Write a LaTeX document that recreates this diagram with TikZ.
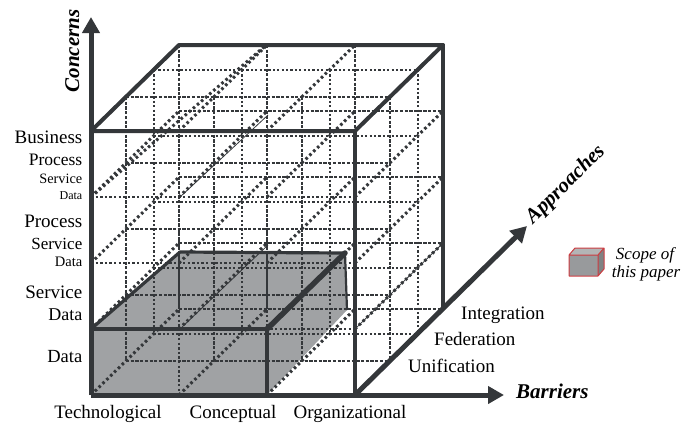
\documentclass[tikz,border=0pt]{standalone}
\usepackage{fontspec}
\setmainfont{Liberation Serif}
\usetikzlibrary{arrows.meta}
\definecolor{ink}{RGB}{52,55,58}
\definecolor{boxgray}{RGB}{160,162,164}
\definecolor{edgered}{RGB}{205,60,65}
\begin{document}
\begin{tikzpicture}[x=1pt,y=-1pt,
  axisline/.style={ink, line width=5pt, -{Triangle[width=17pt,length=16pt]}},
  solidedge/.style={ink, line width=4pt, line cap=round, line join=round},
  gA/.style={ink, line width=2.6pt, dash pattern=on 2.4pt off 2.2pt},
  gB/.style={ink, line width=1.2pt, dash pattern=on 3.2pt off 1.5pt},
  gC/.style={ink, line width=2.4pt, dash pattern=on 2.2pt off 2.2pt},
  gD/.style={ink, line width=1.3pt, dash pattern=on 3.2pt off 1.5pt},
  depthline/.style={ink, line width=3pt, dash pattern=on 2.6pt off 2.8pt},
  lbl/.style={anchor=east, inner sep=0pt, font=\fontsize{#1pt}{#1pt}\selectfont},
  blbl/.style={anchor=base, inner sep=0pt, font=\fontsize{19pt}{19pt}\selectfont},
  alb/.style={anchor=base west, inner sep=0pt, font=\fontsize{19pt}{19pt}\selectfont},
  axlbl/.style={inner sep=0pt, font=\fontsize{21pt}{21pt}\selectfont\bfseries\itshape},
  legendtxt/.style={anchor=base, inner sep=0pt, font=\fontsize{17pt}{17pt}\selectfont\itshape}]
\useasboundingbox (0,0) rectangle (695,429);

% named points
\coordinate (O) at (91,395);
\coordinate (ctip) at (91,17);
\coordinate (btip) at (504,395);
\coordinate (A0) at (355,395);
\coordinate (atip) at (527,226);
\coordinate (FTL) at (91,131);
\coordinate (FTR) at (355,131);
\coordinate (BTL) at (179,45);
\coordinate (BTR) at (443,45);
\coordinate (BBR) at (443,307);

% shaded scope box (fill)
\coordinate (s1) at (91,329);
\coordinate (s2) at (267,329);
\coordinate (s3) at (267,395);
\coordinate (s4) at (180,252);
\coordinate (s5) at (345,253);
\coordinate (s6) at (347,310);
\fill[boxgray] (O) -- (s1) -- (s4) -- (s5) -- (s6) -- (s3) -- cycle;

% lattice
\foreach \dx/\dy/\sty in {0/0/gA, 35/-34/gB, 63/-61/gC, 88/-86/gD}{
  \foreach \yy in {131,197,263,329,395}{
    \draw[\sty] (91+\dx,\yy+\dy) -- (355+\dx,\yy+\dy);
  }
  \foreach \xx in {91,179,267,355}{
    \draw[\sty] (\xx+\dx,131+\dy) -- (\xx+\dx,395+\dy);
  }
}
\foreach \xx in {91,179,267,355}{
  \foreach \yy in {131,197,263,329,395}{
    \draw[depthline] (\xx,\yy) -- (\xx+88,\yy-86);
  }
}
% extra long diagonals
\draw[depthline] (91,197) -- (265,46);
\draw[ink, line width=0.8pt] (180,197) -- (268,115);
\draw[ink, line width=0.8pt] (355,329) -- (441,245);
\draw[ink, line width=0.8pt] (180,329) -- (268,245);

% scope box outline
\draw[ink, line width=3.2pt, line join=round] (s1) -- (s2) -- (s3);
\draw[ink, line width=3.2pt, line join=round] (s1) -- (s4) -- (s5);
\draw[ink, line width=2.2pt] (s5) -- (s6);
\draw[ink, line width=5.5pt, line cap=round] (s2) -- (s5);

% cube outline
\draw[solidedge] (FTL) -- (FTR) -- (BTR) -- (BTL) -- cycle;
\draw[solidedge] (FTR) -- (A0);
\draw[solidedge] (BTR) -- (BBR);

% axes
\draw[axisline] (O) -- (ctip);
\draw[axisline] (O) -- (btip);
\draw[axisline] (A0) -- (atip);

% axis titles
\node[axlbl, rotate=90, anchor=base] (concerns) at (79,51) {Concerns};
\node[axlbl, anchor=base west] (barriers) at (516,398) {Barriers};
\node[axlbl, rotate=45, anchor=base west] (approaches) at (533,225) {Approaches};

% concern labels
\node[lbl=19] (l1) at (82.5,137) {Business};
\node[lbl=17.5] (l2) at (82.5,160) {Process};
\node[lbl=14.3] (l3) at (82.5,179) {Service};
\node[lbl=12] (l4) at (82.5,196) {Data};
\node[lbl=19] (l5) at (82.5,221) {Process};
\node[lbl=17] (l6) at (82.5,244) {Service};
\node[lbl=14.5] (l7) at (82.5,262) {Data};
\node[lbl=19] (l8) at (82.5,292) {Service};
\node[lbl=18] (l9) at (82.5,315) {Data};
\node[lbl=18.5] (l10) at (82.5,357) {Data};

% barrier labels
\node[blbl] (b1) at (108,418) {Technological};
\node[blbl] (b2) at (233,418) {Conceptual};
\node[blbl] (b3) at (350,418) {Organizational};

% approach labels
\node[alb] (a1) at (461,319) {Integration};
\node[alb] (a2) at (434,345) {Federation};
\node[alb] (a3) at (408,372) {Unification};

% legend
\fill[boxgray!80!white] (569,255) -- (575,248) -- (604,248) -- (598,255) -- cycle;
\fill[boxgray!80!black] (598,255) -- (604,248) -- (604,269) -- (598,276) -- cycle;
\fill[boxgray!95!black] (569,255) rectangle (598,276);
\draw[edgered, line width=1pt, line join=round] (569,255) rectangle (598,276)
  (569,255) -- (575,248) -- (604,248) -- (598,255)
  (604,248) -- (604,269) -- (598,276);
\node[legendtxt] (lg1) at (645,259) {Scope of};
\node[legendtxt] (lg2) at (646,277) {this paper};
\end{tikzpicture}
\end{document}
